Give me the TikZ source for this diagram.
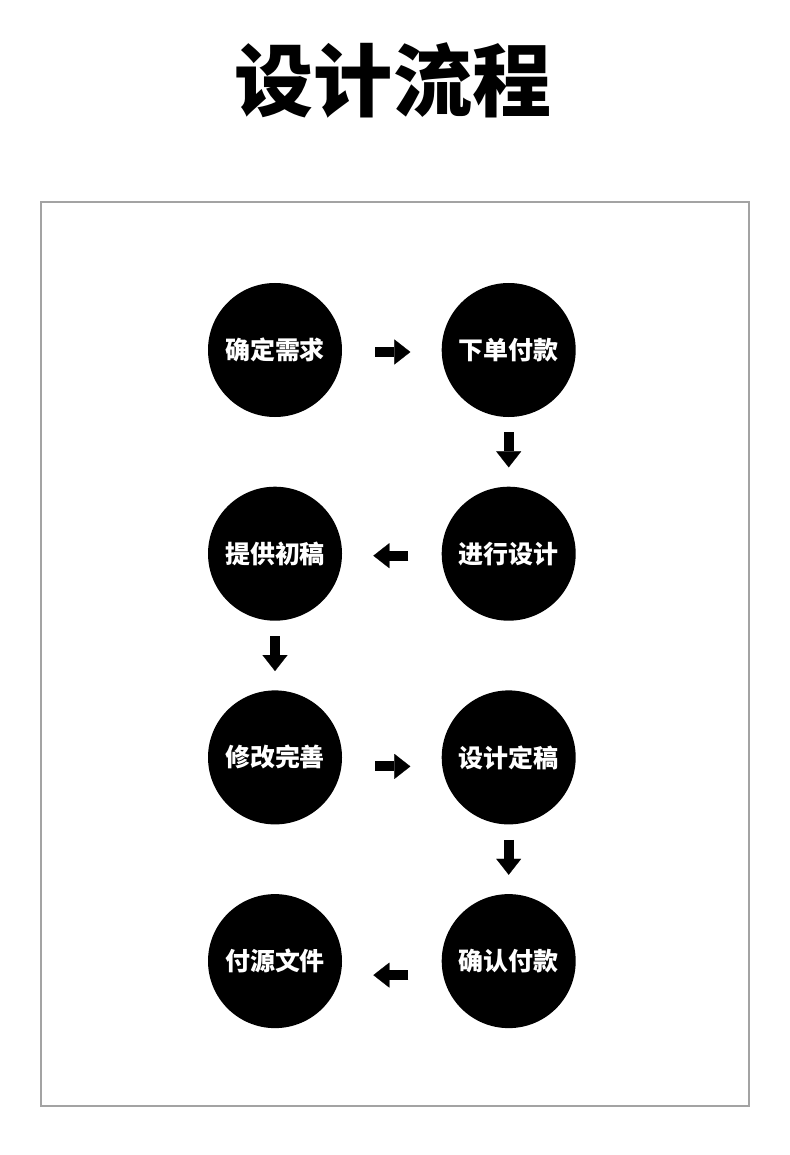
\documentclass[tikz,border=0pt]{standalone}
\usepackage{fontspec}
\usetikzlibrary{arrows.meta,positioning}
\newfontfamily\cjk{Noto Sans CJK SC}
\definecolor{framegray}{HTML}{A3A3A3}
\tikzset{
  stage/.style={circle,fill=black,text=white,minimum size=2.68cm,inner sep=0pt,font=\cjk\bfseries\fontsize{14.2pt}{17pt}\selectfont},
  flow/.style={-{Triangle[length=0.32cm,width=0.5cm,line width=0.1pt]},line width=0.2cm,shorten <=0.66cm,shorten >=0.62cm},
  drop/.style={flow,shorten <=0.3cm,shorten >=0.38cm},
  heading/.style={font=\cjk\bfseries\fontsize{45pt}{54pt}\selectfont}
}

\begin{document}
\begin{tikzpicture}[node distance=1.38cm and 1.98cm]
    \useasboundingbox (0,0) rectangle (15.8,-23.1);
    \node[heading] (title) at (7.86,-1.6) {设计流程};
    \draw[framegray,line width=0.6pt] (0.82,-4.04) rectangle (14.98,-22.12);
    \node[stage] (need) at (5.5,-7.0) {确定需求};
    \node[stage,right=of need] (order) {下单付款};
    \node[stage,below=of order] (design) {进行设计};
    \node[stage,left=of design] (draft) {提供初稿};
    \node[stage,below=of draft] (revise) {修改完善};
    \node[stage,right=of revise] (final) {设计定稿};
    \node[stage,below=of final] (pay) {确认付款};
    \node[stage,left=of pay] (files) {付源文件};
    \draw[flow] ([yshift=-0.04cm]need.east) -- ([yshift=-0.04cm]order.west);
    \draw[drop] (order) -- (design);
    \draw[flow] ([yshift=-0.04cm]design.west) -- ([yshift=-0.04cm]draft.east);
    \draw[drop] (draft) -- (revise);
    \draw[flow] ([yshift=-0.18cm]revise.east) -- ([yshift=-0.18cm]final.west);
    \draw[drop] (final) -- (pay);
    \draw[flow] ([yshift=-0.28cm]pay.west) -- ([yshift=-0.28cm]files.east);
  \end{tikzpicture}
\end{document}
